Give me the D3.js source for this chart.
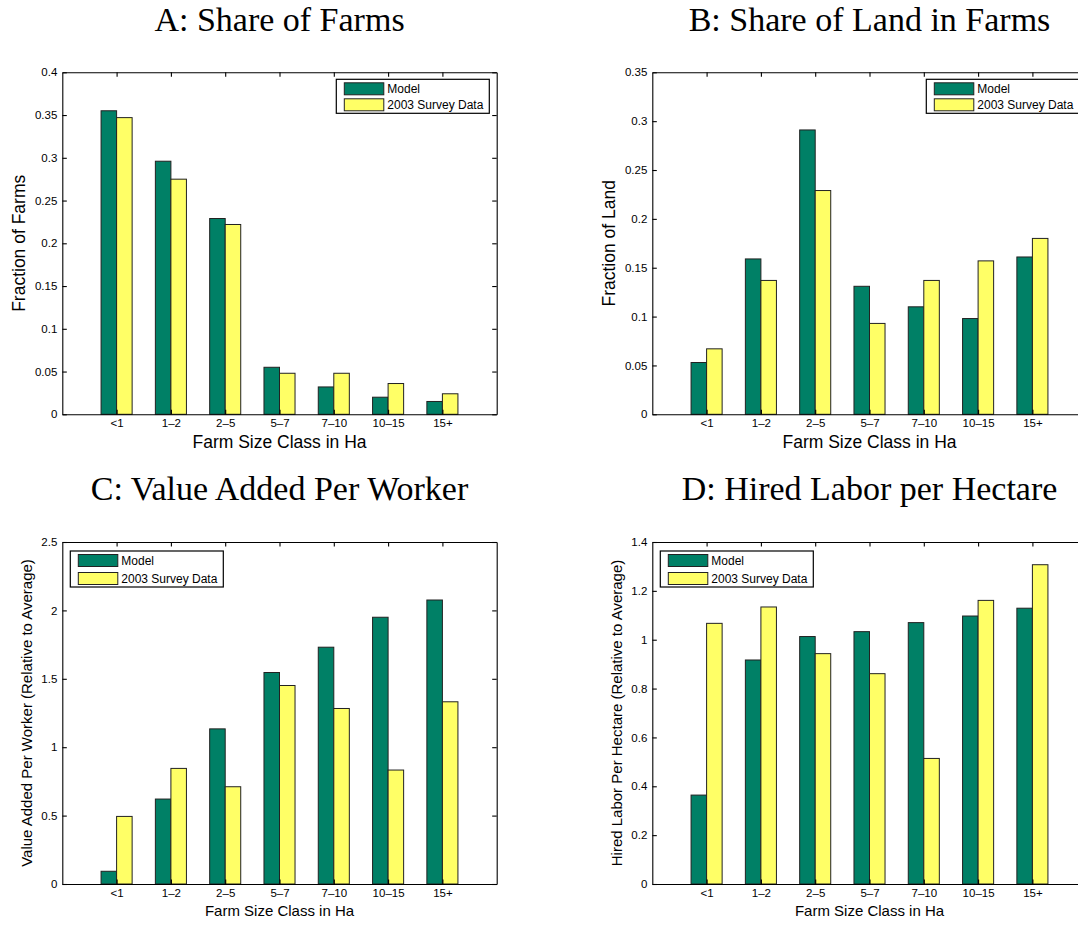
<!DOCTYPE html>
<html>
<head>
<meta charset="utf-8">
<script src="https://cdn.jsdelivr.net/npm/d3@7"></script>
<style>
  body { margin: 0; background: #fff; }
  svg { display: block; }
</style>
</head>
<body>
<div id="figura"></div>
<script>
// categorías y valores
const categorias = ["<1", "1–2", "2–5", "5–7", "7–10", "10–15", "15+"];
const series = ["Model", "2003 Survey Data"];
const colores = ["#008066", "#ffff66"];

const modeloFincas = [0.355, 0.296, 0.229, 0.055, 0.032, 0.020, 0.015];
const encuestaFincas = [0.347, 0.275, 0.222, 0.048, 0.048, 0.036, 0.024];

const modeloTierra = [0.053, 0.159, 0.291, 0.131, 0.110, 0.098, 0.161];
const encuestaTierra = [0.067, 0.137, 0.229, 0.093, 0.137, 0.157, 0.180];

const modeloValor = [0.093, 0.621, 1.134, 1.546, 1.731, 1.950, 2.076];
const encuestaValor = [0.494, 0.845, 0.711, 1.451, 1.283, 0.833, 1.332];

const modeloTrabajo = [0.364, 0.917, 1.013, 1.033, 1.070, 1.097, 1.129];
const encuestaTrabajo = [1.067, 1.134, 0.943, 0.861, 0.514, 1.161, 1.307];

const ticksA = [0, 0.05, 0.1, 0.15, 0.2, 0.25, 0.3, 0.35, 0.4];
const ticksB = [0, 0.05, 0.1, 0.15, 0.2, 0.25, 0.3, 0.35];
const ticksC = [0, 0.5, 1, 1.5, 2, 2.5];
const ticksD = [0, 0.2, 0.4, 0.6, 0.8, 1, 1.2, 1.4];

const ancho = 1078, alto = 925;
const plotW = 434.4, plotH = 342;

const paneles = [
  { titulo: "A: Share of Farms", ylabel: "Fraction of Farms", datos: [modeloFincas, encuestaFincas],
    ticks: ticksA, left: 62.3, top: 72.3, tituloY: 31, etiqueta: 17.5, yLabelX: 25, xLabelDy: 34,
    leyenda: "ne", filaLeyenda: 16 },
  { titulo: "B: Share of Land in Farms", ylabel: "Fraction of Land", datos: [modeloTierra, encuestaTierra],
    ticks: ticksB, left: 652.3, top: 72.3, tituloY: 31, etiqueta: 17.5, yLabelX: 615, xLabelDy: 34,
    leyenda: "ne", filaLeyenda: 16 },
  { titulo: "C: Value Added Per Worker", ylabel: "Value Added Per Worker (Relative to Average)",
    datos: [modeloValor, encuestaValor], ticks: ticksC, left: 62.3, top: 542, tituloY: 500,
    etiqueta: 15, yLabelX: 32, xLabelDy: 32, leyenda: "nw", filaLeyenda: 18 },
  { titulo: "D: Hired Labor per Hectare", ylabel: "Hired Labor Per Hectare (Relative to Average)",
    datos: [modeloTrabajo, encuestaTrabajo], ticks: ticksD, left: 652.3, top: 542, tituloY: 500,
    etiqueta: 15, yLabelX: 622, xLabelDy: 32, leyenda: "nw", filaLeyenda: 18 }
];

const svg = d3.select("#figura")
  .append("svg")
  .attr("width", ancho)
  .attr("height", alto)
  .style("font-family", "'Liberation Sans', Arial, sans-serif");

paneles.forEach(p => {
  const x = d3.scaleLinear().domain([0, categorias.length + 1]).range([p.left, p.left + plotW]);
  const y = d3.scaleLinear().domain([0, d3.max(p.ticks)]).range([p.top + plotH, p.top]);
  const anchoBarra = 0.286;

  // Título
  svg.append("text")
    .attr("x", p.left + plotW / 2)
    .attr("y", p.tituloY)
    .attr("text-anchor", "middle")
    .style("font-family", "'Liberation Serif', 'Times New Roman', serif")
    .style("font-size", "34px")
    .text(p.titulo);

  // Barras
  p.datos.forEach((valores, s) => {
    svg.append("g")
      .selectAll("rect")
      .data(valores)
      .enter()
      .append("rect")
      .attr("x", (d, i) => x(i + 1 + (s - 1) * anchoBarra))
      .attr("y", d => y(d))
      .attr("width", x(anchoBarra) - x(0))
      .attr("height", d => y(0) - y(d))
      .attr("fill", colores[s])
      .attr("stroke", "#222")
      .attr("stroke-width", 1);
  });

  // Ejes
  const indices = d3.range(1, categorias.length + 1);
  const fmt = d => String(d);

  svg.append("g")
    .attr("transform", `translate(0,${p.top + plotH})`)
    .call(d3.axisBottom(x).tickValues(indices).tickFormat(i => categorias[i - 1])
      .tickSizeInner(-4.5).tickSizeOuter(0).tickPadding(5));

  svg.append("g")
    .attr("transform", `translate(0,${p.top})`)
    .call(d3.axisTop(x).tickValues(indices).tickFormat("")
      .tickSizeInner(-4.5).tickSizeOuter(0));

  svg.append("g")
    .attr("transform", `translate(${p.left},0)`)
    .call(d3.axisLeft(y).tickValues(p.ticks).tickFormat(fmt)
      .tickSizeInner(-4.5).tickSizeOuter(0).tickPadding(5));

  svg.append("g")
    .attr("transform", `translate(${p.left + plotW},0)`)
    .call(d3.axisRight(y).tickValues(p.ticks).tickFormat("")
      .tickSizeInner(-4.5).tickSizeOuter(0));

  svg.selectAll(".tick text")
    .style("font-family", "'Liberation Sans', Arial, sans-serif")
    .style("font-size", "11.5px")
    .attr("fill", "#000");
  svg.selectAll(".domain, .tick line").attr("stroke", "#000").attr("stroke-width", 1.1);

  // Etiquetas de ejes
  svg.append("text")
    .attr("x", p.left + plotW / 2)
    .attr("y", p.top + plotH + p.xLabelDy)
    .attr("text-anchor", "middle")
    .style("font-size", `${p.etiqueta}px`)
    .text("Farm Size Class in Ha");

  svg.append("text")
    .attr("transform", `translate(${p.yLabelX},${p.top + plotH / 2}) rotate(-90)`)
    .attr("text-anchor", "middle")
    .style("font-size", `${p.etiqueta}px`)
    .text(p.ylabel);

  // Leyenda
  const lw = 153, lh = p.filaLeyenda + 18;
  const lx = p.leyenda === "ne" ? p.left + plotW - 7.4 - lw : p.left + 8;
  const ly = p.leyenda === "ne" ? p.top + 7 : p.top + 9;
  const leyenda = svg.append("g").attr("transform", `translate(${lx},${ly})`);

  leyenda.append("rect")
    .attr("width", lw)
    .attr("height", lh)
    .attr("fill", "#fff")
    .attr("stroke", "#000")
    .attr("stroke-width", 1.2);

  series.forEach((nombre, s) => {
    const fy = 3.5 + s * p.filaLeyenda;
    leyenda.append("rect")
      .attr("x", 8)
      .attr("y", fy)
      .attr("width", 39.5)
      .attr("height", 12)
      .attr("fill", colores[s])
      .attr("stroke", "#222");
    leyenda.append("text")
      .attr("x", 51)
      .attr("y", fy + 6)
      .attr("dy", "0.35em")
      .style("font-size", "12px")
      .text(nombre);
  });
});
</script>
</body>
</html>
